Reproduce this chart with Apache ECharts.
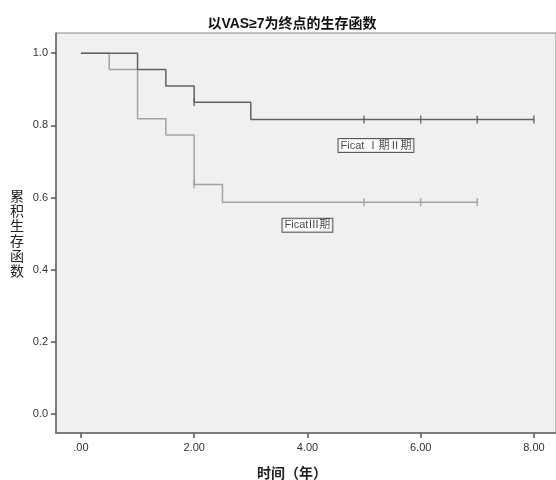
<!DOCTYPE html>
<html>
<head>
<meta charset="utf-8">
<script src="https://cdn.jsdelivr.net/npm/echarts@6/dist/echarts.min.js"></script>
<style>
  html, body { margin: 0; padding: 0; background: #fff; }
  #chart-km { width: 556px; height: 480px; }
</style>
</head>
<body>
<div id="chart-km"></div>
<script>
// 生存时间节点（年）与累积生存率
var timeI = [0, 1, 1.5, 2, 3, 8];
var survI = [1.0, 0.955, 0.909, 0.864, 0.816, 0.816];
var censorTimeI = [2, 5, 6, 7, 8];
var censorSurvI = [0.864, 0.816, 0.816, 0.816, 0.816];

var timeIII = [0, 0.5, 1, 1.5, 2, 2.5, 7];
var survIII = [1.0, 0.955, 0.818, 0.773, 0.636, 0.587, 0.587];
var censorTimeIII = [2, 5, 6, 7];
var censorSurvIII = [0.636, 0.587, 0.587, 0.587];

var xTicks = [0, 2, 4, 6, 8];
var yTicks = [0, 0.2, 0.4, 0.6, 0.8, 1.0];

var groupNames = ['Ficat Ⅰ期Ⅱ期', 'FicatⅢ期'];
var labelPos = [[5.21, 0.744], [4.0, 0.523]];

function pairs(xs, ys){
  var out = [];
  for (var i = 0; i < xs.length; i++) { out.push([xs[i], ys[i]]); }
  return out;
}

var chartKm = echarts.init(document.getElementById('chart-km'));

// 组名方框标签
function boxLabel(text){
  return {
    show: true,
    position: 'inside',
    formatter: text,
    color: '#222',
    fontSize: 11,
    fontFamily: 'Liberation Sans, Noto Sans CJK SC',
    backgroundColor: '#fff',
    borderColor: '#333',
    borderWidth: 1,
    padding: [1, 2]
  };
}

var option = {
  animation: false,
  backgroundColor: '#fff',
  title: [
    {
      text: '以VAS≥7为终点的生存函数',
      left: 287, top: 12, textAlign: 'center',
      textStyle: { fontSize: 14, fontWeight: 'bold', color: '#111', fontFamily: 'Liberation Sans, Noto Sans CJK SC' }
    },
    {
      text: '时间（年）',
      left: 287, top: 461, textAlign: 'center',
      textStyle: { fontSize: 14, fontWeight: 'bold', color: '#222', fontFamily: 'Noto Sans CJK SC' }
    }
  ],
  grid: {
    left: 56, top: 33, right: 0, bottom: 47,
    show: true,
    backgroundColor: '#f0f0f0',
    borderColor: '#888',
    borderWidth: 1
  },
  xAxis: {
    type: 'value',
    min: -0.44,
    max: 8.39,
    axisLine: { show: true, onZero: false, lineStyle: { color: '#666', width: 1.5 } },
    axisTick: { show: true, customValues: xTicks, length: 5, lineStyle: { color: '#555', width: 1.5 } },
    axisLabel: {
      customValues: xTicks, margin: 9, fontSize: 11, color: '#333', fontFamily: 'Liberation Sans',
      formatter: function(v){ return v === 0 ? '.00' : v.toFixed(2); }
    },
    splitLine: { show: false }
  },
  yAxis: {
    type: 'value',
    min: -0.053,
    max: 1.056,
    name: '累\n积\n生\n存\n函\n数',
    nameLocation: 'middle',
    nameRotate: 0,
    nameGap: 32,
    nameTextStyle: { fontSize: 14, lineHeight: 15, color: '#222', fontFamily: 'Noto Sans CJK SC' },
    axisLine: { show: true, onZero: false, lineStyle: { color: '#666', width: 1.5 } },
    axisTick: { show: true, customValues: yTicks, length: 5, lineStyle: { color: '#555', width: 1.5 } },
    axisLabel: {
      customValues: yTicks, margin: 8, fontSize: 11, color: '#333', fontFamily: 'Liberation Sans',
      formatter: function(v){ return v.toFixed(1); }
    },
    splitLine: { show: false }
  },
  series: [
    {
      name: groupNames[0],
      type: 'line',
      step: 'end',
      symbol: 'none',
      lineStyle: { color: '#626262', width: 1.5 },
      data: pairs(timeI, survI),
      z: 3
    },
    {
      name: groupNames[1],
      type: 'line',
      step: 'end',
      symbol: 'none',
      lineStyle: { color: '#a2a2a2', width: 1.5 },
      data: pairs(timeIII, survIII),
      z: 2
    },
    {
      type: 'scatter',
      symbol: 'rect',
      symbolSize: [1.5, 8],
      itemStyle: { color: '#555' },
      data: pairs(censorTimeI, censorSurvI),
      z: 4
    },
    {
      type: 'scatter',
      symbol: 'rect',
      symbolSize: [1.5, 8],
      itemStyle: { color: '#999' },
      data: pairs(censorTimeIII, censorSurvIII),
      z: 4
    },
    {
      type: 'scatter',
      symbol: 'circle',
      symbolSize: 1,
      itemStyle: { color: 'rgba(0,0,0,0)' },
      silent: true,
      z: 5,
      data: [
        { value: labelPos[0], label: boxLabel(groupNames[0]) },
        { value: labelPos[1], label: boxLabel(groupNames[1]) }
      ]
    }
  ]
};
chartKm.setOption(option);
</script>
</body>
</html>
